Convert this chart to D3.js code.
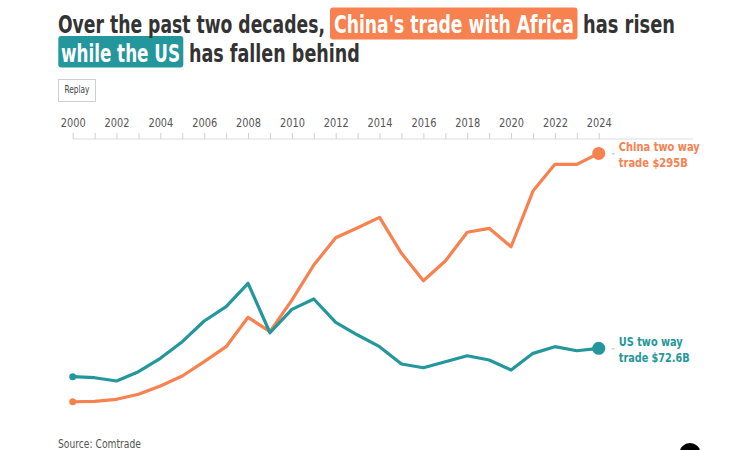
<!DOCTYPE html>
<html>
<head>
<meta charset="utf-8">
<script src="https://cdn.jsdelivr.net/npm/d3@7"></script>
<style>
  html, body { margin: 0; padding: 0; background: #fff; }
  svg { display: block; }
  text { font-family: "Liberation Sans Narrow", "DejaVu Sans Condensed", "Roboto", sans-serif; }
</style>
</head>
<body>
<svg id="chart" width="735" height="450"></svg>
<script>
// ---- data ----
const years = d3.range(2000, 2025);
const chinaTrade = [11.7, 12.2, 14.5, 20.2, 29.7, 41.1, 57.4, 74.5, 108, 91.6,
  127.7, 167.7, 198.8, 210.2, 222, 181, 149.7, 172.2, 205, 209.5,
  188.5, 252, 282.5, 282.5, 295];
const usTrade = [40.3, 39.1, 35.4, 46, 61.2, 80.2, 103.8, 120.1, 146.8, 90.4,
  117.1, 128.9, 102.3, 87.8, 74.5, 54.7, 50.5, 57.4, 64.2, 59.3,
  47.9, 66.9, 74.5, 69.9, 72.6];
const tickYears = d3.range(2000, 2025);
const seriesNames = ["China", "US"];
const endLabels = [["China two way", "trade $295B"], ["US two way", "trade $72.6B"]];

const ORANGE = "#f7814f", TEAL = "#23979b", DARK = "#333333";

const svg = d3.select("#chart");

// Place a text at (x, y) so that its natural width equals w, keeping the
// visual height of a font of size `size` by stretching vertically.
function placeText(parent, str, x, y, w, size, attrs) {
  const t = parent.append("text").attr("x", 0).attr("y", 0).attr("font-size", size).text(str);
  Object.entries(attrs || {}).forEach(([k, v]) => t.attr(k, v));
  const nat = t.node().getComputedTextLength();
  const f = size * w / nat;
  t.attr("font-size", f).attr("transform", `translate(${x},${y}) scale(1,${size / f})`);
  return t;
}

// ---- title ----
const title = svg.append("g").attr("font-weight", "bold");
title.append("rect").attr("x", 330).attr("y", 7.5).attr("width", 247.5).attr("height", 32).attr("rx", 3).attr("fill", ORANGE);
title.append("rect").attr("x", 58.3).attr("y", 36).attr("width", 125).attr("height", 31.5).attr("rx", 3).attr("fill", TEAL);
placeText(title, "Over the past two decades,", 58, 33, 267, 25, { fill: DARK });
placeText(title, "China's trade with Africa", 334, 33, 240, 25, { fill: "#fff" });
placeText(title, "has risen", 583, 33, 92, 25, { fill: DARK });
placeText(title, "while the US", 61, 61.5, 119, 25, { fill: "#fff" });
placeText(title, "has fallen behind", 189, 61.5, 171, 25, { fill: DARK });

// ---- replay button ----
svg.append("rect").attr("x", 58.5).attr("y", 79.5).attr("width", 37).attr("height", 22)
  .attr("fill", "#fff").attr("stroke", "#cfcfcf").attr("stroke-width", 1);
placeText(svg, "Replay", 64.5, 93.3, 25, 10.5, { fill: "#444" });

// ---- scales ----
const x = d3.scaleLinear().domain([2000, 2028.3]).range([72.7, 693]);
const y = d3.scaleLinear().domain([0, 300]).range([412, 149]);

// ---- axis ----
const axis = d3.axisTop(x)
  .tickValues(tickYears)
  .tickSize(6)
  .tickPadding(6.3)
  .tickFormat(d => d % 2 === 0 ? String(d) : "");
const gAxis = svg.append("g").attr("transform", "translate(0,139)").call(axis);
gAxis.select(".domain").attr("stroke", "#dcdcdc").attr("d", `M${x(2000)},0H${x.range()[1]}`);
gAxis.selectAll(".tick line").attr("stroke", "#d0d0d0");
gAxis.selectAll(".tick text").attr("fill", "#555").attr("font-size", 13)
  .attr("font-family", '"Liberation Sans Narrow", "DejaVu Sans Condensed", "Roboto", sans-serif')
  .each(function(d) {
    if (d % 2 !== 0) return;
    const t = d3.select(this);
    const nat = this.getComputedTextLength();
    const f = 13 * 25 / nat;
    t.attr("font-size", f).attr("y", null).attr("transform", `translate(0,-12.3) scale(1,${13 / f})`);
  });

// ---- lines ----
const line = d3.line().x((d, i) => x(years[i])).y(d => y(d));
const seriesData = [chinaTrade, usTrade];
const colors = [ORANGE, TEAL];

seriesData.forEach((vals, k) => {
  const g = svg.append("g").attr("class", "series-" + seriesNames[k]);
  g.append("path").datum(vals).attr("d", line).attr("fill", "none")
    .attr("stroke", colors[k]).attr("stroke-width", 3.2).attr("stroke-linejoin", "round").attr("stroke-linecap", "round");
  g.append("circle").attr("cx", x(years[0])).attr("cy", y(vals[0])).attr("r", 3.5).attr("fill", colors[k]);
  const last = vals.length - 1;
  g.append("circle").attr("cx", x(years[last])).attr("cy", y(vals[last])).attr("r", 6.5).attr("fill", colors[k]);
  g.append("line").attr("x1", x(years[last]) + 13).attr("x2", x(years[last]) + 16)
    .attr("y1", y(vals[last]) + 0.5).attr("y2", y(vals[last]) + 0.5)
    .attr("stroke", "#bbb").attr("stroke-width", 1);
  const lx = x(years[last]) + 20, ly = y(vals[last]);
  const widths = k === 0 ? [81, 69] : [64, 71];
  placeText(g, endLabels[k][0], lx, ly - 2, widths[0], 12.8, { fill: colors[k], "font-weight": "bold" });
  placeText(g, endLabels[k][1], lx, ly + 13.5, widths[1], 12.8, { fill: colors[k], "font-weight": "bold" });
});

// ---- source ----
placeText(svg, "Source: Comtrade", 58, 448, 83, 11.5, { fill: "#555" });

// ---- corner button ----
svg.append("circle").attr("cx", 690).attr("cy", 453.5).attr("r", 10.5).attr("fill", "#000");
</script>
</body>
</html>
